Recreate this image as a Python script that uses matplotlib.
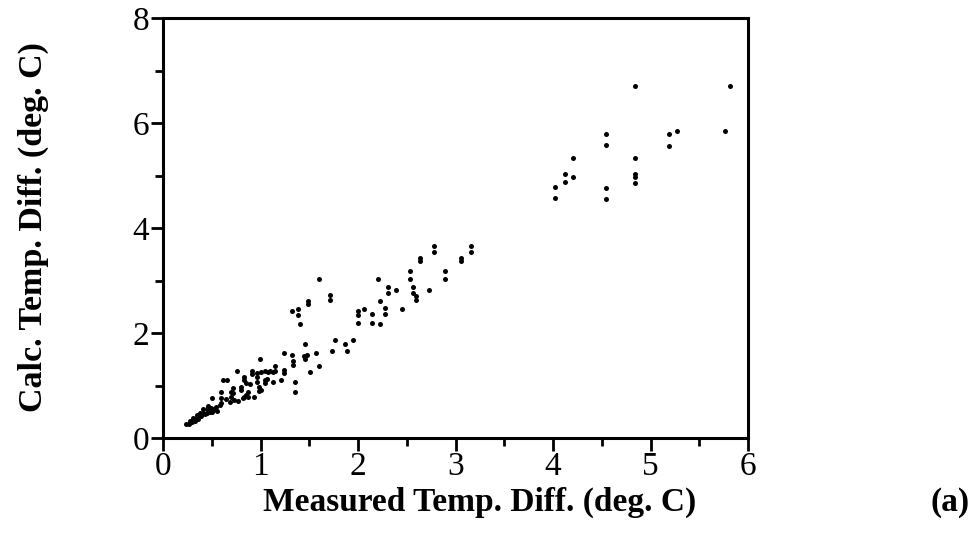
import numpy as np
from matplotlib import pyplot as plt
from matplotlib.ticker import MultipleLocator

# measured vs calculated temperature difference (deg. C)
measured = [0.24, 0.27, 0.28, 0.30, 0.31, 0.33, 0.35, 0.35, 0.36, 0.38,
            0.39, 0.41, 0.41, 0.43, 0.45, 0.45, 0.46, 0.48, 0.49, 0.50,
            0.50, 0.52, 0.54, 0.55, 0.58, 0.59, 0.59, 0.59, 0.62, 0.65,
            0.66, 0.69, 0.70, 0.70, 0.72, 0.72, 0.73, 0.76, 0.77, 0.80,
            0.80, 0.82, 0.83, 0.83, 0.83, 0.85, 0.85, 0.87, 0.87, 0.89,
            0.91, 0.91, 0.93, 0.96, 0.96, 0.96, 0.98, 0.98, 0.99, 1.00,
            1.01, 1.05, 1.05, 1.05, 1.07, 1.08, 1.10, 1.13, 1.13, 1.15,
            1.15, 1.21, 1.24, 1.24, 1.24, 1.32, 1.32, 1.33, 1.33, 1.35,
            1.35, 1.38, 1.38, 1.41, 1.45, 1.46, 1.46, 1.48, 1.49, 1.49,
            1.51, 1.57, 1.60, 1.60, 1.71, 1.71, 1.73, 1.76, 1.87, 1.89,
            1.95, 2.00, 2.00, 2.00, 2.06, 2.14, 2.14, 2.20, 2.23, 2.23,
            2.28, 2.28, 2.31, 2.31, 2.39, 2.45, 2.53, 2.53, 2.56, 2.56,
            2.59, 2.59, 2.64, 2.64, 2.73, 2.78, 2.78, 2.89, 2.89, 3.06,
            3.06, 3.16, 3.16,
            4.02, 4.02, 4.12, 4.12, 4.21, 4.21, 4.54, 4.54, 4.54, 4.54,
            4.84, 4.84, 4.84, 4.84, 4.84, 5.19, 5.19, 5.27, 5.76, 5.82]
calculated = [0.27, 0.27, 0.32, 0.30, 0.38, 0.33, 0.40, 0.44, 0.36, 0.47,
              0.41, 0.48, 0.56, 0.45, 0.48, 0.55, 0.61, 0.50, 0.57, 0.50,
              0.76, 0.55, 0.60, 0.52, 0.62, 0.66, 0.76, 0.87, 1.11, 0.74,
              1.11, 0.69, 0.79, 0.88, 0.86, 0.95, 0.73, 1.28, 0.70, 0.91,
              0.97, 0.76, 1.16, 1.11, 0.79, 1.05, 0.82, 0.79, 0.88, 1.02,
              1.27, 1.21, 0.78, 1.23, 1.16, 1.06, 0.97, 0.89, 1.51, 0.92,
              1.25, 1.28, 1.11, 1.05, 1.12, 1.25, 1.27, 1.25, 1.07, 1.38,
              1.27, 1.10, 1.62, 1.30, 1.24, 1.58, 2.41, 1.46, 1.39, 1.07,
              0.87, 2.45, 2.35, 2.18, 1.56, 1.79, 1.51, 1.58, 2.61, 2.55,
              1.25, 1.61, 3.02, 1.38, 2.72, 2.62, 1.66, 1.86, 1.79, 1.66,
              1.86, 2.41, 2.35, 2.19, 2.45, 2.36, 2.19, 3.03, 2.61, 2.17,
              2.47, 2.36, 2.87, 2.77, 2.82, 2.45, 3.18, 3.02, 2.87, 2.77,
              2.71, 2.62, 3.43, 3.37, 2.82, 3.65, 3.55, 3.18, 3.02, 3.43,
              3.37, 3.65, 3.55,
              4.78, 4.57, 5.03, 4.87, 5.33, 4.97, 5.79, 5.58, 4.77, 4.56,
              6.71, 5.33, 5.02, 4.97, 4.86, 5.79, 5.57, 5.84, 5.84, 6.70]

plt.rcParams['font.family'] = ['Liberation Serif', 'DejaVu Serif']

fig = plt.figure(figsize=(9.74, 5.41), dpi=100)
ax = fig.add_axes([163/974, 1 - 438/541, (748 - 163)/974, (438 - 18)/541])

ax.plot(measured, calculated, 'o', color='black', markersize=3.6, markeredgewidth=0)

ax.set_xlim(0, 6)
ax.set_ylim(0, 8)
ax.xaxis.set_major_locator(MultipleLocator(1))
ax.xaxis.set_minor_locator(MultipleLocator(0.5))
ax.yaxis.set_major_locator(MultipleLocator(2))
ax.yaxis.set_minor_locator(MultipleLocator(1))
ax.tick_params(which='major', direction='out', length=9, width=2, labelsize=24, pad=1)
ax.tick_params(which='minor', direction='out', length=6, width=2)
for s in ax.spines.values():
    s.set_linewidth(2.2)

fig.text(480/974, 1 - 502/541, 'Measured Temp. Diff. (deg. C)', ha='center', va='center',
         fontsize=24, fontweight='bold')
fig.text(33/974, 1 - 227/541, 'Calc. Temp. Diff. (deg. C)', ha='center', va='center',
         rotation=90, fontsize=24.5, fontweight='bold')
fig.text(950/974, 1 - 502/541, '(a)', ha='center', va='center', fontsize=24, fontweight='bold')

fig.savefig('out.png', dpi=100)
